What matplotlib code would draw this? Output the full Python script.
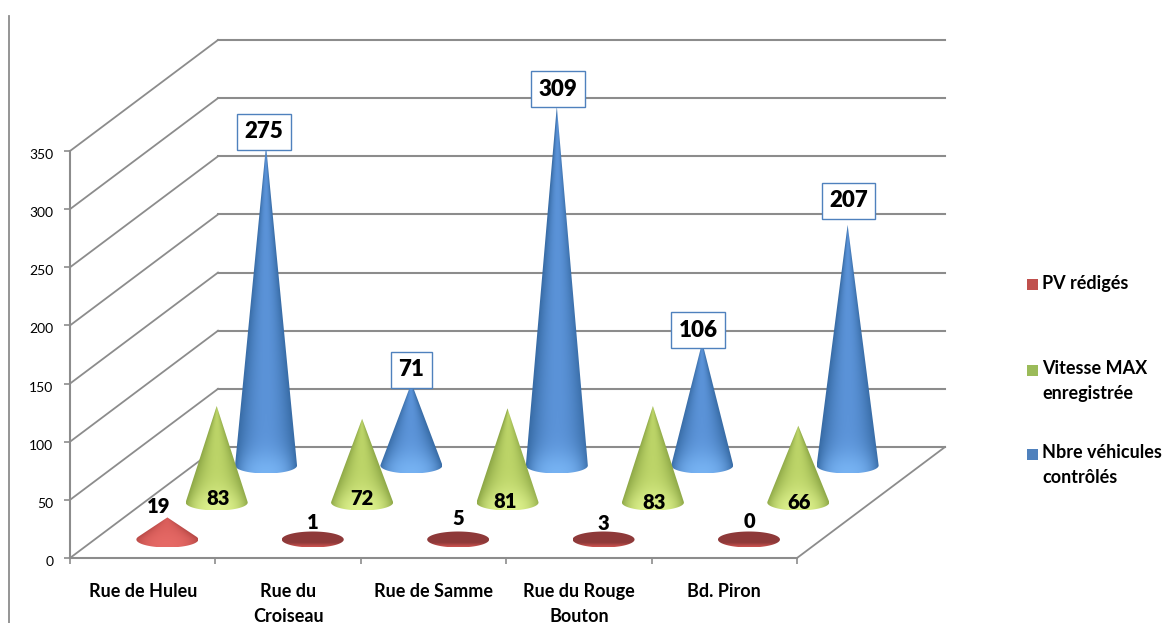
import numpy as np
import matplotlib
matplotlib.use('Agg')
import matplotlib.pyplot as plt
from matplotlib.colors import to_rgb
from matplotlib.lines import Line2D
from matplotlib.patches import Rectangle
from matplotlib.path import Path
from matplotlib.transforms import Affine2D

plt.rcParams['font.family'] = ['Lato', 'DejaVu Sans']

# data
categories = ['Rue de Huleu', 'Rue du\nCroiseau', 'Rue de Samme', 'Rue du Rouge\nBouton', 'Bd. Piron']
pv_rediges = [19, 1, 5, 3, 0]
vitesse_max = [83, 72, 81, 83, 66]
nbre_vehicules = [275, 71, 309, 106, 207]
series_names = ['PV rédigés', 'Vitesse MAX\nenregistrée', 'Nbre véhicules\ncontrôlés']
y_ticks = [0, 50, 100, 150, 200, 250, 300, 350]

# style
GRID = '#8c8c8c'
LEGEND_COLORS = ['#c0504d', '#9bbb59', '#4f81bd']
SHADES = [('#b84a47', '#d65a57', '#e66a66'),
          ('#8ea847', '#bcd468', '#def28e'),
          ('#386ca6', '#5b93d8', '#76b2f2')]
FLAT_DARK, FLAT_BRIGHT = '#8e3939', '#c8514e'
DEPTH_DX, DEPTH_DY = 148, 111   # px shift from the front to the back of the floor
RX, RY = 31, 8                  # cone base radii, px

# label offsets from the cone apex (px, y up)
pv_offsets = [(-9, 1), (0, 6), (0, 6), (0, 3), (0, 9)]
box_offsets = [(-2, 14), (0, 13), (1, 17), (-4, 12), (1, 24)]
# green labels sit on the cone, given from the base centre
vitesse_offsets = [(1, 4), (0, 4), (-2, 1), (1, 0), (1, 0)]

fig = plt.figure(figsize=(11.63, 6.23), dpi=100)
ax = fig.add_axes([70 / 1163, 65 / 623, 727 / 1163, 407 / 623])
ax.set_facecolor('none')
sx = 5 / 727
sy = 350 / 407


def depth_transform(d):
    return ax.transData + Affine2D().translate(DEPTH_DX * d, DEPTH_DY * d)


def cone_vertices(h):
    if h <= RY:
        t = np.linspace(0, 2 * np.pi, 80)
        return RX * np.cos(t), RY * np.sin(t)
    a = np.arcsin(RY / h)
    t = np.linspace(np.pi - a, 2 * np.pi + a, 80)
    return np.r_[0, RX * np.cos(t), 0], np.r_[h, RY * np.sin(t), h]


def shade(h, colors):
    top = max(h, RY)
    ys = np.linspace(top, -RY, max(int(top + RY) * 2, 30))
    xs = np.linspace(-RX, RX, 124)
    X, Y = np.meshgrid(xs, ys)
    if h <= RY:
        # nearly flat cone: dark top with a lighter rim at the front
        m = np.clip((-Y - RY * 0.45) / (RY * 0.5), 0, 1)[..., None]
        dark, bright = np.array(to_rgb(FLAT_DARK)), np.array(to_rgb(FLAT_BRIGHT))
        return dark + (bright - dark) * m
    edge, centre, high = [np.array(to_rgb(c)) for c in colors]
    w = np.where(Y > 0, RX * (h - Y) / h, RX)
    u = np.clip(np.abs(X) / np.maximum(w, 0.5), 0, 1)
    mix = (1 - u ** 2)[..., None]
    img = edge + (centre - edge) * mix
    glow = (np.exp(-((Y + RY) / 22.0) ** 2) * (1 - u ** 2))[..., None]
    return img + (high - img) * glow


def draw_cone(i, value, d, colors, z):
    h = value / sy
    tr = depth_transform(d)
    xc = i + 0.5
    px, py = cone_vertices(h)
    path = Path(np.c_[xc + px * sx, py * sy])
    top = max(h, RY)
    im = ax.imshow(shade(h, colors), extent=(xc - RX * sx, xc + RX * sx, -RY * sy, top * sy),
                   aspect='auto', origin='upper', transform=tr, zorder=z,
                   interpolation='bilinear')
    im.set_clip_box(fig.bbox)
    im.set_clip_path(path, tr)


# walls and floor gridlines, every one through the y scale
back_dx = DEPTH_DX * sx
back_dy = DEPTH_DY * sy
for v in y_ticks:
    ax.add_line(Line2D([0, back_dx], [v, v + back_dy], color=GRID, lw=1.3, clip_on=False, zorder=1))
    ax.add_line(Line2D([back_dx, 5 + back_dx], [v + back_dy] * 2, color=GRID, lw=1.5,
                       clip_on=False, zorder=1))
ax.add_line(Line2D([5, 5 + back_dx], [0, back_dy], color=GRID, lw=1.3, clip_on=False, zorder=1))

series = [pv_rediges, vitesse_max, nbre_vehicules]
z = 10
for s in (2, 1, 0):
    d = (s + 0.5) / 3
    for i, value in enumerate(series[s]):
        draw_cone(i, value, d, SHADES[s], z)
        z += 1

ax.set_xlim(0, 5)
ax.set_ylim(0, 350)

# data labels
label_style = dict(fontweight='heavy', color='black', zorder=60, annotation_clip=False,
                   textcoords='offset pixels', ha='center')
for i, value in enumerate(pv_rediges):
    ax.annotate(str(value), xy=(i + 0.5, value), xycoords=depth_transform(1 / 6),
                xytext=pv_offsets[i], va='bottom', fontsize=14.5, **label_style)
for i, value in enumerate(vitesse_max):
    ax.annotate(str(value), xy=(i + 0.5, 0), xycoords=depth_transform(0.5),
                xytext=vitesse_offsets[i], va='center', fontsize=14.5, **label_style)
for i, value in enumerate(nbre_vehicules):
    ax.annotate(str(value), xy=(i + 0.5, value), xycoords=depth_transform(5 / 6),
                xytext=box_offsets[i], va='center', fontsize=16, **label_style,
                bbox=dict(boxstyle='square,pad=0.33', fc='white', ec='#4f81bd', lw=1))

# axes
for side in ('top', 'right'):
    ax.spines[side].set_visible(False)
for side in ('left', 'bottom'):
    ax.spines[side].set_color(GRID)
    ax.spines[side].set_linewidth(1.5)
    ax.spines[side].set_zorder(2)
ax.set_yticks(y_ticks)
ax.set_xticks(range(6))
ax.set_xticklabels([])
ax.set_xticks(np.arange(5) + 0.5, minor=True)
ax.set_xticklabels(categories, minor=True, fontsize=13, fontweight='bold', linespacing=1.55)
ax.tick_params(axis='y', length=4, width=1.2, color=GRID, labelsize=10, pad=8)
ax.tick_params(axis='x', which='major', length=4, width=1.2, color=GRID)
ax.tick_params(axis='x', which='minor', length=0, pad=18)
for lbl in ax.get_yticklabels():
    lbl.set_transform(lbl.get_transform() + Affine2D().translate(0, -3))

# legend placed by hand, marker on the first text line
legend_y = [285, 370, 454]
for name, color, y in zip(series_names, LEGEND_COLORS, legend_y):
    fig.add_artist(Rectangle((1027 / 1163, 1 - (y + 5.5) / 623), 11 / 1163, 11 / 623,
                             transform=fig.transFigure, fc=color, ec='none'))
    fig.text(1042 / 1163, 1 - (y - 10) / 623, name, ha='left', va='top', fontsize=13,
             fontweight='bold', linespacing=1.55)

# stray rule at the left of the picture
fig.add_artist(Line2D([9 / 1163, 9 / 1163], [0, 1 - 16 / 623], color=GRID, lw=1.3))

fig.savefig('out.png', dpi=100)
